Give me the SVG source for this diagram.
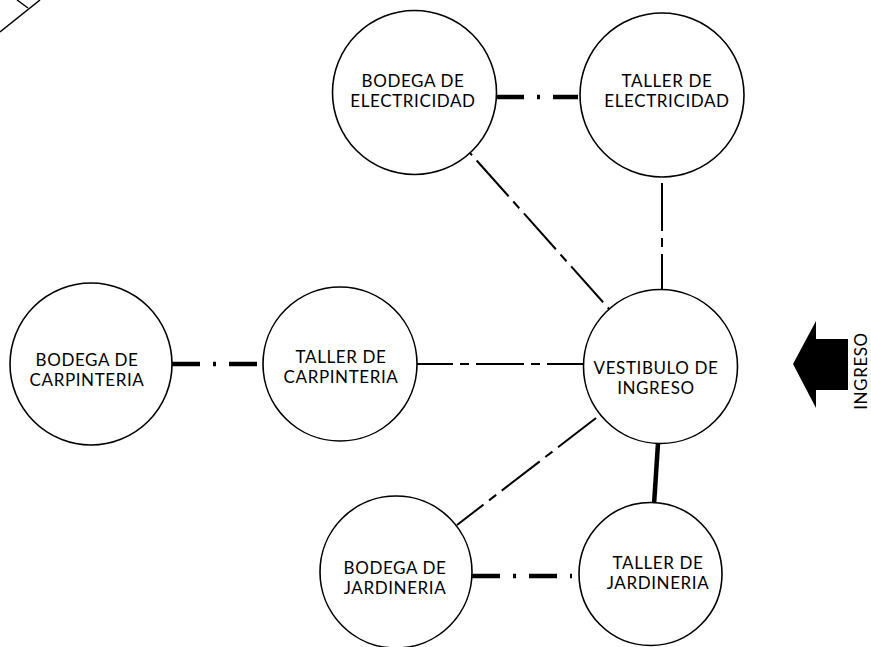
<svg xmlns="http://www.w3.org/2000/svg" width="871" height="647" viewBox="0 0 871 647">
<style>
.n{fill:#fff;stroke:#000;stroke-width:1.6}
.t{font-family:Lato,"Open Sans","Liberation Sans",sans-serif;font-size:17px;font-weight:400;letter-spacing:0.6px;fill:#000;text-anchor:middle}
.thin{fill:none;stroke:#000;stroke-width:2;stroke-dasharray:48 7 9 7}
.thick{fill:none;stroke:#000;stroke-width:4.5;stroke-dasharray:28 13 3 13}
.solid{fill:none;stroke:#000;stroke-width:4.5}
</style>
<rect width="871" height="647" fill="#fff"/>
<g id="corner" fill="none" stroke="#000" stroke-width="1.5">
<line x1="0" y1="32" x2="40" y2="0"/>
<line x1="17" y1="0" x2="28" y2="8"/>
</g>
<g id="connectors">
<line class="thick" x1="496" y1="97" x2="578" y2="97"/>
<line class="thick" x1="172" y1="364" x2="263" y2="364"/>
<line class="thick" x1="472" y1="576" x2="572" y2="576"/>
<line class="thin" x1="417" y1="364" x2="584" y2="364" stroke-dashoffset="12"/>
<line class="thin" x1="470" y1="153" x2="610" y2="310" stroke-dashoffset="-10"/>
<line class="thin" x1="662" y1="183" x2="662" y2="290"/>
<line class="thin" x1="600" y1="415" x2="457" y2="525" stroke-dashoffset="-5"/>
<line class="solid" x1="658" y1="443" x2="654" y2="505"/>
</g>
<g id="bodega-electricidad">
<circle class="n" cx="414.5" cy="92.5" r="82"/>
<text class="t" x="413" y="87">BODEGA DE</text>
<text class="t" x="413" y="107">ELECTRICIDAD</text>
</g>
<g id="taller-electricidad">
<circle class="n" cx="662" cy="95" r="82"/>
<text class="t" x="667" y="87">TALLER DE</text>
<text class="t" x="667" y="107">ELECTRICIDAD</text>
</g>
<g id="bodega-carpinteria">
<circle class="n" cx="91" cy="364" r="81"/>
<text class="t" x="87" y="366">BODEGA DE</text>
<text class="t" x="87" y="386">CARPINTERIA</text>
</g>
<g id="taller-carpinteria">
<circle class="n" cx="340" cy="364" r="77"/>
<text class="t" x="341" y="363">TALLER DE</text>
<text class="t" x="341" y="383">CARPINTERIA</text>
</g>
<g id="vestibulo">
<circle class="n" cx="660.5" cy="366.5" r="77"/>
<text class="t" x="656" y="374">VESTIBULO DE</text>
<text class="t" x="656" y="394">INGRESO</text>
</g>
<g id="bodega-jardineria">
<circle class="n" cx="396" cy="572" r="76"/>
<text class="t" x="395" y="574">BODEGA DE</text>
<text class="t" x="395" y="594">JARDINERIA</text>
</g>
<g id="taller-jardineria">
<circle class="n" cx="650.5" cy="574" r="71.5"/>
<text class="t" x="658" y="569">TALLER DE</text>
<text class="t" x="658" y="589">JARDINERIA</text>
</g>
<g id="ingreso">
<polygon points="793,364 816,321 816,339 848,339 848,390 816,390 816,408" fill="#000"/>
<text class="t" transform="translate(867,371) rotate(-90)" x="0" y="0">INGRESO</text>
</g>
</svg>
